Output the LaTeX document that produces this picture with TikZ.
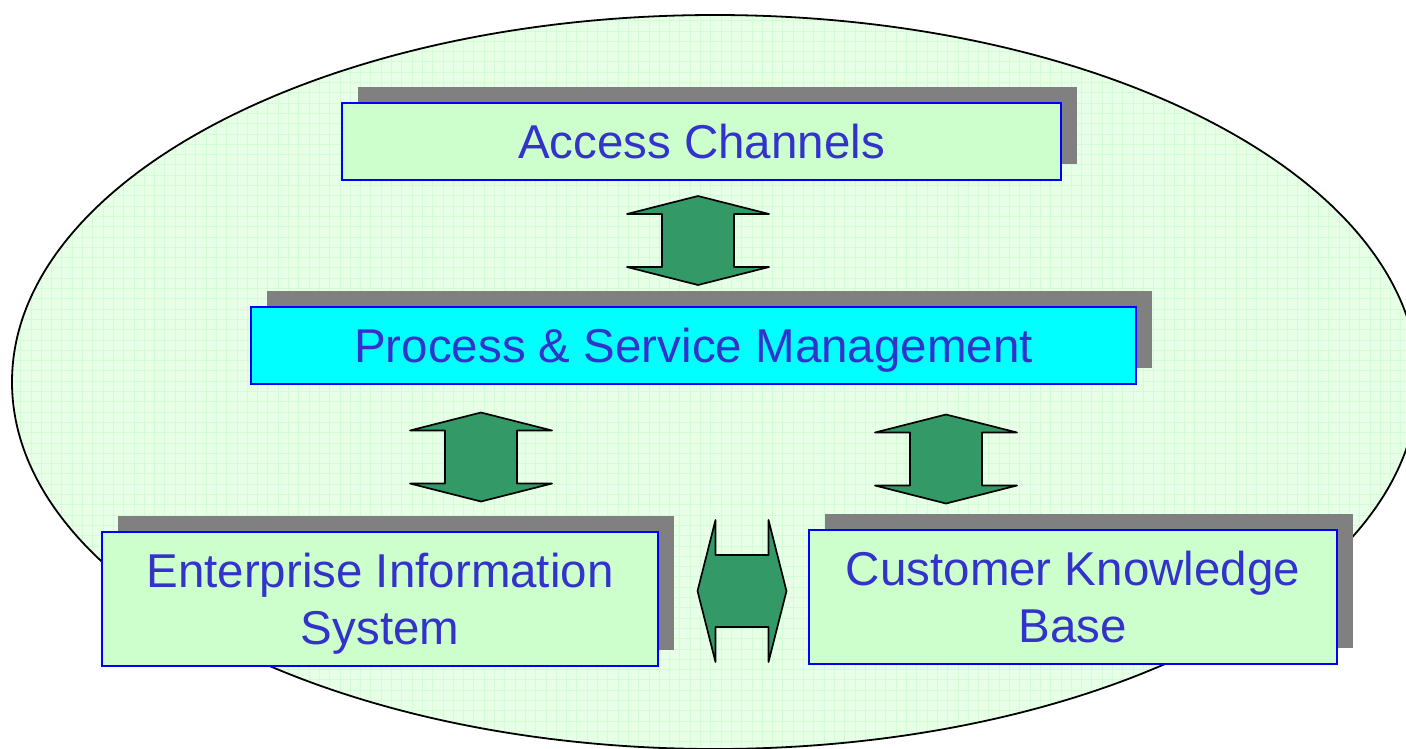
\documentclass[tikz,border=0pt]{standalone}
\usepackage{fontspec}
\setmainfont{Liberation Sans}
\usetikzlibrary{shadows}

\definecolor{ovalFill}{RGB}{230,255,230}
\definecolor{ovalGrid}{RGB}{212,252,212}
\definecolor{paleGreen}{RGB}{204,255,204}
\definecolor{layerCyan}{RGB}{0,255,255}
\definecolor{frameBlue}{RGB}{0,0,255}
\definecolor{labelBlue}{RGB}{51,51,204}
\definecolor{shadowGray}{RGB}{128,128,128}
\definecolor{arrowGreen}{RGB}{51,153,102}

\tikzset{
  layer/.style={draw=frameBlue, line width=2pt, fill=paleGreen, text=labelBlue,
    font=\fontsize{47.5pt}{57pt}\selectfont, align=center, inner sep=0pt,
    text depth=0pt,
    drop shadow={shadow xshift=16pt, shadow yshift=16pt, opacity=1, fill=shadowGray}},
  oval/.style={draw=black, line width=1.8pt},
  arrowbody/.style={fill=arrowGreen, draw=black, line width=1.7pt, line join=round},
  pics/dblarrow/.style={code={
    \draw[arrowbody] (0,-44.5) -- (71,-26.5) -- (36,-26.5) -- (36,26.5) -- (71,26.5)
      -- (0,44.5) -- (-71,26.5) -- (-36,26.5) -- (-36,-26.5) -- (-71,-26.5) -- cycle;
  }},
}

\begin{document}
\begin{tikzpicture}[x=1pt, y=-1pt]
  \clip (0,0) rectangle (1406,748);
  \fill[white] (0,0) rectangle (1406,748);

  % surrounding oval with its faint grid
  \fill[ovalFill] (715,382) ellipse [x radius=703pt, y radius=367pt];
  \begin{scope}
    \clip (715,382) ellipse [x radius=703pt, y radius=367pt];
    \draw[ovalGrid, line width=0.8pt, step=10.3pt] (0,0) grid (1430,760);
  \end{scope}
  \draw[oval] (715,382) ellipse [x radius=703pt, y radius=367pt];

  % layers
  \node[layer, minimum width=719pt, minimum height=77pt] (ac) at (701.5,141.5) {Access Channels};
  \node[layer, fill=layerCyan, minimum width=885pt, minimum height=77pt] (psm) at (693.5,345.5) {Process \& Service Management};
  \node[layer, minimum width=556pt, minimum height=134pt] (eis) at (380,599) {Enterprise Information\\System};
  \node[layer, minimum width=528pt, minimum height=134pt] (ckb) at (1073,597) {Customer Knowledge\\Base};

  % block arrows between layers
  \pic (acpsm) at (698,240.5) {dblarrow};
  \pic (psmeis) at (481,457) {dblarrow};
  \pic (psmckb) at (946,459) {dblarrow};
  \pic[rotate=90] (eisckb) at (742,591) {dblarrow};
\end{tikzpicture}
\end{document}
